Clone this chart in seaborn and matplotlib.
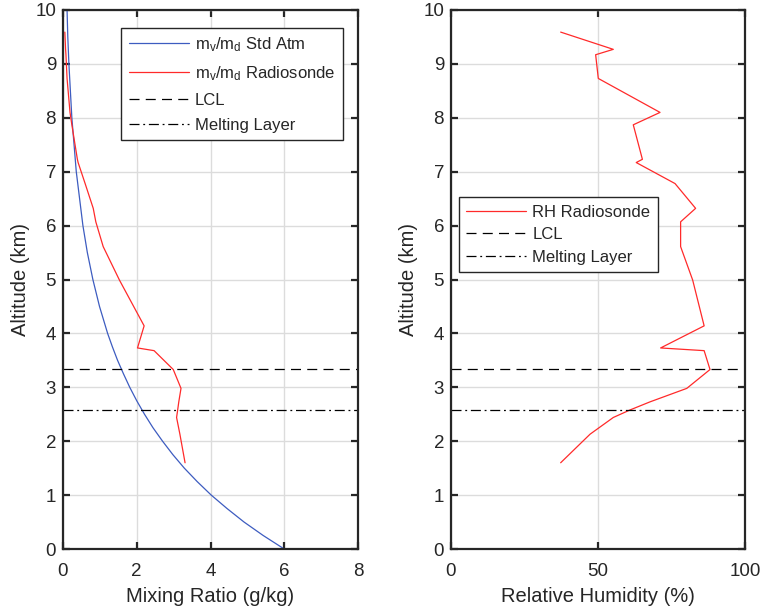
import matplotlib
matplotlib.use("Agg")
import matplotlib.pyplot as plt
import seaborn as sns
import pandas as pd

# ---- data ----
std_alt = [0.0, 0.25, 0.5, 0.75, 1.0, 1.25, 1.5, 1.75, 2.0, 2.25, 2.5, 2.75, 3.0,
           3.25, 3.5, 3.75, 4.0, 4.25, 4.5, 4.75, 5.0, 5.5, 6.0, 6.5,
           7.0, 7.5, 8.0, 8.5, 9.0, 9.5, 10.0]
std_mix = [6.00, 5.43, 4.91, 4.45, 4.02, 3.64, 3.29, 2.98, 2.70, 2.44, 2.21, 2.00, 1.81,
           1.64, 1.48, 1.34, 1.21, 1.10, 0.99, 0.90, 0.81, 0.66,
           0.54, 0.45, 0.36, 0.30, 0.24, 0.20, 0.16, 0.13, 0.11]

sonde_alt = [1.60, 2.13, 2.44, 2.58, 2.73, 2.98, 3.33, 3.68, 3.73, 4.14, 4.99,
             5.61, 6.07, 6.32, 6.78, 7.17, 7.23, 7.87, 8.10, 8.73, 9.17, 9.27, 9.59]
sonde_mix = [3.31, 3.17, 3.08, 3.11, 3.14, 3.20, 2.99, 2.47, 2.02, 2.20, 1.53,
             1.09, 0.89, 0.82, 0.60, 0.41, 0.39, 0.24, 0.19, 0.11, 0.08, 0.07, 0.05]
sonde_rh = [37.3, 47.3, 55.2, 60.9, 67.7, 80.2, 88.1, 86.1, 71.3, 86.1, 82.2,
            78.1, 78.1, 83.2, 76.2, 63.0, 65.1, 62.0, 71.1, 50.1, 49.2, 55.2, 37.3]

lcl_alt = 3.34
melt_alt = 2.58

mix_ticks = [0, 2, 4, 6, 8]
rh_ticks = [0, 50, 100]
alt_ticks = list(range(0, 11))

# ---- style ----
sns.set_theme(style="whitegrid")
plt.rcParams["font.family"] = ["Liberation Sans", "DejaVu Sans"]
plt.rcParams["mathtext.fontset"] = "custom"
plt.rcParams["mathtext.rm"] = "Liberation Sans"
plt.rcParams["mathtext.it"] = "Liberation Sans"

BLUE = "#3d5cc0"
RED = "#ff2a2a"
FRAME = "#262626"

fig = plt.figure(figsize=(7.63, 6.11), dpi=100)
ax1 = fig.add_axes([63 / 763, 62 / 611, 295 / 763, 539 / 611])
ax2 = fig.add_axes([451 / 763, 62 / 611, 294 / 763, 539 / 611])

df_std = pd.DataFrame({"mix": std_mix, "alt": std_alt})
df_sonde = pd.DataFrame({"mix": sonde_mix, "rh": sonde_rh, "alt": sonde_alt})

sns.lineplot(data=df_std, x="mix", y="alt", sort=False, estimator=None, ax=ax1,
             color=BLUE, lw=0.9, label=r"m$_{\mathrm{v}}$/m$_{\mathrm{d}}$ Std Atm")
sns.lineplot(data=df_sonde, x="mix", y="alt", sort=False, estimator=None, ax=ax1,
             color=RED, lw=0.9, label=r"m$_{\mathrm{v}}$/m$_{\mathrm{d}}$ Radiosonde")
ax1.axhline(lcl_alt, color="black", lw=0.9, ls=(0, (8, 5)), label="LCL")
ax1.axhline(melt_alt, color="black", lw=0.9, ls=(0, (8, 3, 1.5, 3)), label="Melting Layer")

sns.lineplot(data=df_sonde, x="rh", y="alt", sort=False, estimator=None, ax=ax2,
             color=RED, lw=0.9, label="RH Radiosonde")
ax2.axhline(lcl_alt, color="black", lw=0.9, ls=(0, (8, 5)), label="LCL")
ax2.axhline(melt_alt, color="black", lw=0.9, ls=(0, (8, 3, 1.5, 3)), label="Melting Layer")

for ax, xt, xl, xlim in [(ax1, mix_ticks, "Mixing Ratio (g/kg)", (0, 8)),
                         (ax2, rh_ticks, "Relative Humidity (%)", (0, 100))]:
    ax.set_xlim(*xlim)
    ax.set_ylim(0, 10)
    ax.set_xticks(xt)
    ax.set_yticks(alt_ticks)
    ax.set_xlabel(xl, fontsize=14.5, color=FRAME, labelpad=5)
    ax.set_ylabel("Altitude (km)", fontsize=14.5, color=FRAME, labelpad=3.5)
    ax.grid(True, color="#dcdcdc", lw=1.0)
    ax.set_facecolor("white")
    for s in ax.spines.values():
        s.set_visible(True)
        s.set_color(FRAME)
        s.set_linewidth(1.6)
    ax.tick_params(axis="both", which="both", direction="in", length=5, width=1.6,
                   color=FRAME, labelcolor=FRAME, labelsize=13.5,
                   top=True, right=True, bottom=True, left=True)
    ax.tick_params(axis="x", pad=10)
    ax.tick_params(axis="y", pad=5)

leg1 = ax1.legend(loc="upper left", bbox_to_anchor=(0.197, 0.967), borderaxespad=0,
                  fontsize=12, frameon=True, fancybox=False, framealpha=1,
                  edgecolor=FRAME, handlelength=3.6, handletextpad=0.36,
                  borderpad=0.45, labelspacing=0.6)
leg1.get_frame().set_linewidth(1.0)
leg2 = ax2.legend(loc="upper left", bbox_to_anchor=(0.027, 0.653), borderaxespad=0,
                  fontsize=12, frameon=True, fancybox=False, framealpha=1,
                  edgecolor=FRAME, handlelength=3.6, handletextpad=0.36,
                  borderpad=0.45, labelspacing=0.45)
leg2.get_frame().set_linewidth(1.0)

fig.savefig("out.png", dpi=100, facecolor="white")
